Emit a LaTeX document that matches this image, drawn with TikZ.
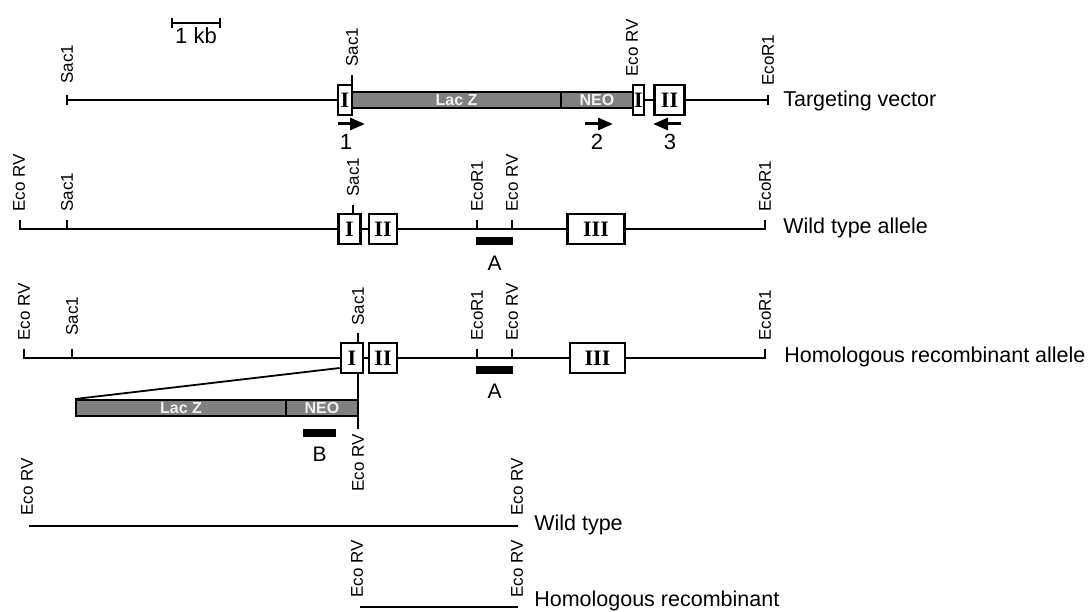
\documentclass[tikz,border=0pt]{standalone}
\usepackage{fontspec}
\setmainfont{Liberation Sans}
\newfontfamily\romfont{Liberation Serif}
\usetikzlibrary{positioning,arrows.meta,calc}

\begin{document}
\begin{tikzpicture}[x=1pt, y=1pt, line width=2.6pt,
  >={Triangle[length=15pt,width=12pt]},
  exon/.style={draw, fill=white, line width=2.6pt, inner sep=0pt, minimum height=30pt,
               font=\romfont\bfseries\fontsize{22}{22}\selectfont},
  cassette/.style={draw, fill=black!50, line width=2pt, inner sep=0pt, minimum height=16pt,
                   text=black!6, font=\bfseries\fontsize{16}{16}\selectfont},
  site/.style={rotate=90, inner sep=0pt, font=\fontsize{17}{17}\selectfont},
  probe/.style={fill=black, inner sep=0pt, minimum height=8pt},
  rowname/.style={anchor=west, inner sep=0pt, font=\fontsize{21.5}{22}\selectfont},
  tag/.style={inner sep=0pt, font=\fontsize{22}{22}\selectfont},
  ptag/.style={inner sep=0pt, font=\fontsize{21}{21}\selectfont},
  primer/.style={->, line width=3pt}]
\useasboundingbox (0,0) rectangle (1091,-612);
% scale bar
\coordinate (kb-l) at (172,-23); \coordinate (kb-r) at (220,-23);
\draw (kb-l) -- (kb-r);
\draw ([yshift=5pt]kb-l) -- ([yshift=-5pt]kb-l); \draw ([yshift=5pt]kb-r) -- ([yshift=-5pt]kb-r);
\node[tag] (kb) at (196,-36) {1 kb};
% targeting vector
\coordinate (tv-l) at (67,-100); \coordinate (tv-r) at (768,-100);
\node[cassette, minimum width=209pt] (tv-lacz) at (456.5,-100) {Lac Z};
\node[cassette, minimum width=72pt] (tv-neo) at (597,-100) {NEO};
\node[exon, minimum width=14pt] (tv-e1) at (345,-100) {I};
\node[exon, minimum width=11pt] (tv-e1b) at (638.5,-100) {I};
\node[exon, minimum width=30pt] (tv-e2) at (669.5,-100) {II};
\draw (tv-l) -- (tv-e1); \draw (tv-e1b) -- (tv-e2); \draw (tv-e2) -- (tv-r);
\draw ([yshift=5pt]tv-l) -- ([yshift=-5pt]tv-l); \draw ([yshift=5pt]tv-r) -- ([yshift=-5pt]tv-r);
\draw (352,-85) -- (352,-75);
\node[site, anchor=west] (tv-s1) at (67,-85) {Sac1};
\node[site, anchor=west] (tv-s2) at (352,-68) {Sac1};
\node[site, anchor=west] (tv-rv) at (632,-78) {Eco RV};
\node[site, anchor=west] (tv-r1) at (768,-87) {EcoR1};
\node[rowname] (tv-name) at (782,-101) {Targeting vector};
% primers
\coordinate (p1) at (338,-124); \coordinate (p2) at (585,-124); \coordinate (p3) at (681,-124);
\draw[primer] (p1) -- ++(27,0); \draw[primer] (p2) -- ++(28,0); \draw[primer] (p3) -- ++(-28,0);
\node[tag] (p1-n) at (346,-142) {1};
\node[tag] (p2-n) at (597,-142) {2};
\node[tag] (p3-n) at (670,-142) {3};
% wild type allele
\coordinate (wt-l) at (20,-229); \coordinate (wt-r) at (765,-229);
\node[exon, minimum width=22pt] (wt-e1) at (349.5,-229) {I};
\node[exon, minimum width=28pt] (wt-e2) at (383,-229) {II};
\node[exon, minimum width=57pt] (wt-e3) at (596,-229) {III};
\draw (wt-l) -- (wt-e1); \draw (wt-e1) -- (wt-e2); \draw (wt-e2) -- (wt-e3); \draw (wt-e3) -- (wt-r);
\foreach \x in {20,67,477,512,765} \draw (\x,-230) -- ++(0,10);
\draw (353,-214) -- ++(0,9);
\node[probe, minimum width=37pt] (wt-pa) at (494.5,-241) {};
\node[ptag, below=8pt of wt-pa] (wt-a) {A};
\node[site, anchor=west] (wt-rv1) at (19,-213) {Eco RV};
\node[site, anchor=west] (wt-s1) at (67,-213) {Sac1};
\node[site, anchor=west] (wt-s2) at (353,-198) {Sac1};
\node[site, anchor=west] (wt-r1) at (477,-213) {EcoR1};
\node[site, anchor=west] (wt-rv2) at (512,-213) {Eco RV};
\node[site, anchor=west] (wt-r2) at (765,-213) {EcoR1};
\node[rowname] (wt-name) at (782,-228) {Wild type allele};
% homologous recombinant allele
\coordinate (hr-l) at (24,-358); \coordinate (hr-r) at (765,-358);
\node[exon, minimum width=22pt] (hr-e1) at (352,-358) {I};
\node[exon, minimum width=28pt] (hr-e2) at (383,-358) {II};
\node[exon, minimum width=55pt] (hr-e3) at (597.5,-358) {III};
\draw (hr-l) -- (hr-e1); \draw (hr-e1) -- (hr-e2); \draw (hr-e2) -- (hr-e3); \draw (hr-e3) -- (hr-r);
\foreach \x in {24,72,477,512,765} \draw (\x,-359) -- ++(0,10);
\draw (358,-343) -- ++(0,10);
\node[probe, minimum width=37pt] (hr-pa) at (494.5,-369.5) {};
\node[ptag, below=8pt of hr-pa] (hr-a) {A};
\node[site, anchor=west] (hr-rv1) at (24,-342) {Eco RV};
\node[site, anchor=west] (hr-s1) at (72,-337) {Sac1};
\node[site, anchor=west] (hr-s2) at (358,-327) {Sac1};
\node[site, anchor=west] (hr-r1) at (477,-342) {EcoR1};
\node[site, anchor=west] (hr-rv2) at (512,-342) {Eco RV};
\node[site, anchor=west] (hr-r2) at (765,-342) {EcoR1};
\node[rowname] (hr-name) at (783,-357) {Homologous recombinant allele};
% inserted cassette
\node[cassette, minimum width=210pt] (hr-lacz) at (181,-408) {Lac Z};
\node[cassette, minimum width=72pt] (hr-neo) at (322,-408) {NEO};
\draw[line width=1.8pt] ([yshift=-10pt]hr-e1.west) -- (hr-lacz.north west);
\coordinate (hr-ins) at (358,-373); \coordinate (hr-cut) at (358,-429);
\draw (hr-ins) -- (hr-cut);
\node[site, anchor=east] (hr-rv3) at (358,-433) {Eco RV};
\node[probe, minimum width=33pt] (hr-pb) at (319.5,-433) {};
\node[ptag, below=7pt of hr-pb] (hr-b) {B};
% EcoRV fragments
\coordinate (wf-l) at (29,-526); \coordinate (wf-r) at (518,-526);
\draw (wf-l) -- (wf-r);
\node[site, anchor=west] (wf-rv1) at (27,-517) {Eco RV};
\node[site, anchor=west] (wf-rv2) at (517,-517) {Eco RV};
\node[rowname] (wf-name) at (533,-525) {Wild type};
\coordinate (hf-l) at (360,-607); \coordinate (hf-r) at (518,-607);
\draw (hf-l) -- (hf-r);
\node[site, anchor=west] (hf-rv1) at (357,-599) {Eco RV};
\node[site, anchor=west] (hf-rv2) at (517,-599) {Eco RV};
\node[rowname] (hf-name) at (533,-601) {Homologous recombinant};
\end{tikzpicture}
\end{document}
